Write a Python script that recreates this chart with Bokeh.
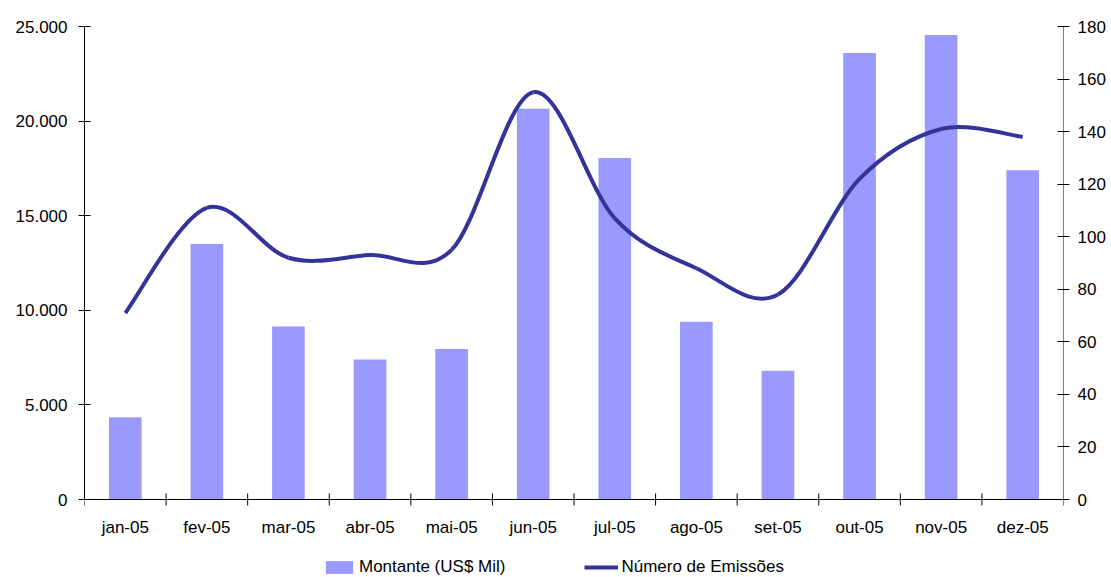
import math
from bokeh.plotting import figure
from bokeh.models import Range1d, LinearAxis, FixedTicker, Legend, LegendItem, Span
from bokeh.core.properties import value
from bokeh.embed import file_html
from bokeh.resources import INLINE

months = ["jan-05", "fev-05", "mar-05", "abr-05", "mai-05", "jun-05",
          "jul-05", "ago-05", "set-05", "out-05", "nov-05", "dez-05"]
montante = [4350, 13500, 9150, 7400, 7950, 20650, 18050, 9400, 6800, 23600, 24550, 17400]
emissoes = [71, 111, 92, 93, 95, 155, 107, 88, 78, 122, 141, 138]
left_ticks = [0, 5000, 10000, 15000, 20000, 25000]
right_ticks = [0, 20, 40, 60, 80, 100, 120, 140, 160, 180]

FONT = "Liberation Sans"
FS = "17px"
BAR_COLOR = "#9999FF"
LINE_COLOR = "#333399"

# layout (pixels)
PLOT_PX = 473      # height of the value area
BOTTOM_PX = 78     # room under the zero line for labels and legend
LMAX, RMAX = 25000, 180

n = len(months)
xc = [i + 0.5 for i in range(n)]

p = figure(frame_width=979, frame_height=PLOT_PX + BOTTOM_PX, output_backend="svg",
           toolbar_location=None,
           x_range=Range1d(0, n),
           y_range=Range1d(-LMAX * BOTTOM_PX / PLOT_PX, LMAX),
           min_border_left=84, min_border_right=48, min_border_top=26, min_border_bottom=0)
p.outline_line_color = None
p.xgrid.grid_line_color = None
p.ygrid.grid_line_color = None
p.xaxis.visible = False
p.extra_y_ranges = {"right": Range1d(-RMAX * BOTTOM_PX / PLOT_PX, RMAX)}

bars = p.vbar(x=xc, top=montante, width=0.4, fill_color=BAR_COLOR, line_color=None)

# smoothed line (Catmull-Rom style Bezier between data points)
x0, y0, x1, y1, cx0, cy0, cx1, cy1 = [], [], [], [], [], [], [], []
for i in range(n - 1):
    pm = max(i - 1, 0)
    pn = min(i + 2, n - 1)
    x0.append(xc[i]); y0.append(emissoes[i])
    x1.append(xc[i + 1]); y1.append(emissoes[i + 1])
    cx0.append(xc[i] + (xc[i + 1] - xc[pm]) / 6)
    cy0.append(emissoes[i] + (emissoes[i + 1] - emissoes[pm]) / 6)
    cx1.append(xc[i + 1] - (xc[pn] - xc[i]) / 6)
    cy1.append(emissoes[i + 1] - (emissoes[pn] - emissoes[i]) / 6)
p.bezier(x0=x0, y0=y0, x1=x1, y1=y1, cx0=cx0, cy0=cy0, cx1=cx1, cy1=cy1,
         line_color=LINE_COLOR, line_width=4, y_range_name="right")
nan = float("nan")
legend_line = p.line(x=[nan, nan], y=[nan, nan], line_color=LINE_COLOR, line_width=4,
                     y_range_name="right")

# category axis drawn at the zero line
p.add_layout(Span(location=0, dimension="width", line_color="black", line_width=1))
bounds = list(range(n + 1))
p.scatter(x=bounds, y=[0] * len(bounds), marker="dash", angle=math.pi / 2, size=12,
          line_color="black", line_width=1)
p.text(x=xc, y=[0] * n, text=months, y_offset=28, text_align="center",
       text_baseline="middle", text_font=value(FONT), text_font_size=value(FS),
       text_color="black")

# left axis
ya = p.yaxis[0]
ya.ticker = FixedTicker(ticks=left_ticks)
ya.bounds = (0, LMAX)
ya.major_label_overrides = {t: f"{t:,}".replace(",", ".") for t in left_ticks}
ya.major_tick_out = 6
ya.major_tick_in = 6
ya.minor_tick_line_color = None
ya.major_label_standoff = 11
ya.axis_line_color = "black"
ya.major_tick_line_color = "black"
ya.major_label_text_font = FONT
ya.major_label_text_font_size = FS
ya.major_label_text_color = "black"

# right axis
ra = LinearAxis(y_range_name="right", ticker=FixedTicker(ticks=right_ticks))
ra.bounds = (0, RMAX)
ra.major_tick_out = 6
ra.major_tick_in = 6
ra.minor_tick_line_color = None
ra.major_label_standoff = 8
ra.axis_line_color = "#808080"
ra.major_tick_line_color = "black"
ra.major_label_text_font = FONT
ra.major_label_text_font_size = FS
ra.major_label_text_color = "black"
p.add_layout(ra, "right")

legend = Legend(items=[LegendItem(label="Montante (US$ Mil)", renderers=[bars]),
                       LegendItem(label="Número de Emissões", renderers=[legend_line])],
                orientation="horizontal", location=(238, 0),
                glyph_width=34, glyph_height=16, label_height=18, label_standoff=3, spacing=79,
                padding=0, margin=0, border_line_color=None, background_fill_alpha=0,
                label_text_font=FONT, label_text_font_size=FS, label_text_color="black")
p.add_layout(legend, "center")

open("out.html", "w").write(file_html(p, INLINE))
